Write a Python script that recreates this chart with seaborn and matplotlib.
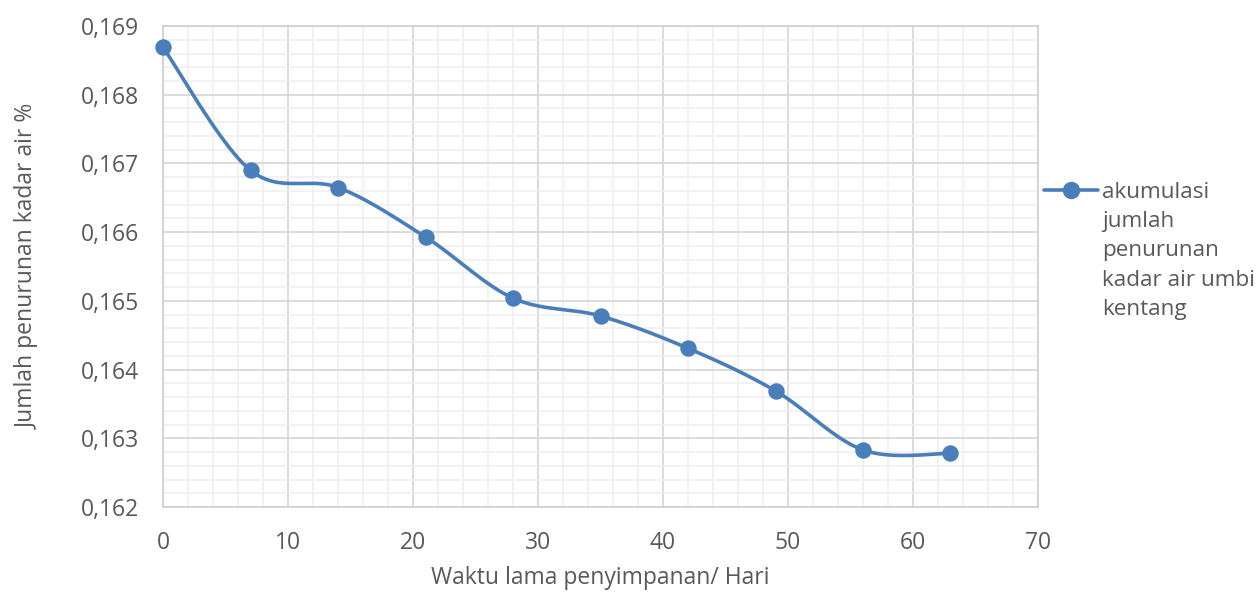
import numpy as np
import pandas as pd
import matplotlib
matplotlib.use("Agg")
import matplotlib.pyplot as plt
import seaborn as sns
from matplotlib.ticker import MultipleLocator, FuncFormatter
from matplotlib.lines import Line2D

hari = [0, 7, 14, 21, 28, 35, 42, 49, 56, 63]
penurunan = [0.16869, 0.16690, 0.16665, 0.16593, 0.16504, 0.16478, 0.16431, 0.16369, 0.16283, 0.16278]
series_label = "akumulasi\njumlah\npenurunan\nkadar air umbi\nkentang"
x_label = "Waktu lama penyimpanan/ Hari"
y_label = "Jumlah penurunan kadar air %"

sns.set_theme(style="white")
plt.rcParams['font.family'] = ['Open Sans', 'DejaVu Sans']

fig = plt.figure(figsize=(12.6, 5.92), dpi=100)
ax = fig.add_axes([0.1294, 0.1436, 0.8238 - 0.1294, 0.956 - 0.1436])

color = "#4a7ebb"
gray = "#595959"
fs = 16.5

# Smooth curve (Bezier like Excel's smoothed line) derived from the data
def smooth(xs, ys, n=40):
    xs = np.asarray(xs, float); ys = np.asarray(ys, float)
    sx = 875 / 70.0; sy = 481 / 0.007
    P = np.column_stack([xs * sx, ys * sy])
    out = []
    for i in range(len(P) - 1):
        p0 = P[i - 1] if i > 0 else P[i]
        p1 = P[i]; p2 = P[i + 1]
        p3 = P[i + 2] if i + 2 < len(P) else P[i + 1]
        c1 = p1 + (p2 - p0) / 6.0
        c2 = p2 - (p3 - p1) / 6.0
        t = np.linspace(0, 1, n)[:, None]
        seg = (1 - t) ** 3 * p1 + 3 * (1 - t) ** 2 * t * c1 + 3 * (1 - t) * t ** 2 * c2 + t ** 3 * p2
        out.append(seg if i == 0 else seg[1:])
    out = np.vstack(out)
    return out[:, 0] / sx, out[:, 1] / sy

cx, cy = smooth(hari, penurunan)
curve = pd.DataFrame({"x": cx, "y": cy})
df = pd.DataFrame({"hari": hari, "penurunan": penurunan})

sns.lineplot(data=curve, x="x", y="y", ax=ax, color=color, linewidth=2.6, sort=False, estimator=None)
sns.scatterplot(data=df, x="hari", y="penurunan", ax=ax, color=color, s=140, edgecolor=color, linewidth=0, zorder=5, clip_on=False)

ax.set_xlim(0, 70)
ax.set_ylim(0.162, 0.169)
ax.xaxis.set_major_locator(MultipleLocator(10))
ax.xaxis.set_minor_locator(MultipleLocator(2))
ax.yaxis.set_major_locator(MultipleLocator(0.001))
ax.yaxis.set_minor_locator(MultipleLocator(0.0002))
ax.yaxis.set_major_formatter(FuncFormatter(lambda v, p: f"{v:.3f}".replace(".", ",")))
ax.grid(which="major", color="#d9d9d9", linewidth=1.3)
ax.grid(which="minor", color="#efefef", linewidth=1.1)
ax.set_axisbelow(True)
for s in ax.spines.values():
    s.set_color("#d0d0d0"); s.set_linewidth(1.2)
ax.tick_params(axis="both", which="both", length=0, labelsize=fs, labelcolor=gray, pad=17)
ax.set_xlabel(x_label, fontsize=fs, color=gray, labelpad=8)
ax.set_ylabel(y_label, fontsize=fs, color=gray, labelpad=30)

handle = Line2D([], [], color=color, linewidth=2.6, marker="o", markersize=11.5)
leg = fig.legend([handle], [series_label], loc="upper left", bbox_to_anchor=(0.8285, 0.693),
                 frameon=False, fontsize=16.2, handlelength=2.4, handletextpad=0.2,
                 labelspacing=0.2, borderpad=0, borderaxespad=0)
for t in leg.get_texts():
    t.set_color(gray)
    t.set_linespacing(1.52)
for col in leg._legend_handle_box.get_children():
    for item in col.get_children():
        item.align = "top"

fig.savefig("out.png", dpi=100)
